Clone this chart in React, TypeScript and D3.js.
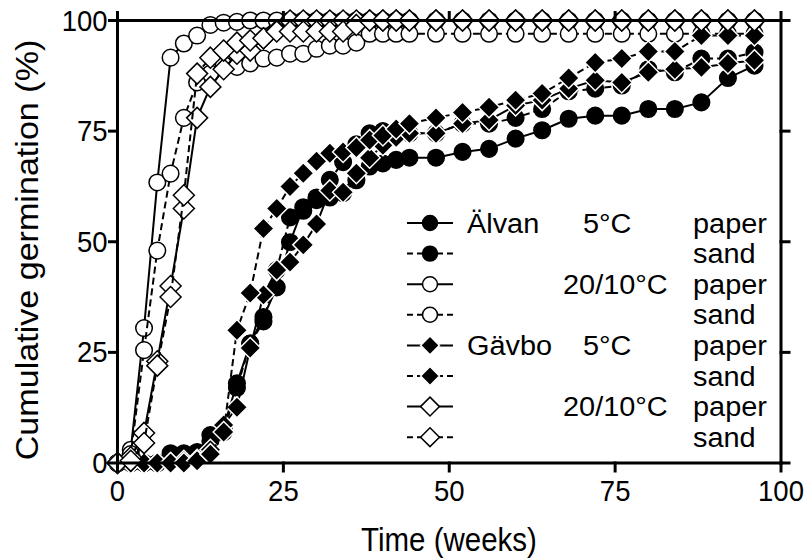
import React from 'react';
import * as d3 from 'd3';

const weeks = [0,2,4,6,8,10,12,14,16,18,20,22,24,26,28,30,32,34,36,38,40,42,44,48,52,56,60,64,68,72,76,80,84,88,92,96];

const alvan5Paper = [0,0,0,0,2.2,2.2,2.5,6.3,8,18,27,33,39.7,49.9,57.8,59.4,60,61,63.9,67,67.7,68.5,69, 69,70.3,71,73.3,75.2,77.8,78.5,78.5,80,80,81.5,87,89.8];
const alvan5Sand = [0,0,0,0,1.5,1.5,2,5,7,17,27,32,43.6,55.5,57,60,64,68,72,74.5,75,74,74.5, 74.5,76.7,76.7,78,80,84,84.6,85.3,89,88.3,91.4,91.4,92.8];
const alvan20Paper = [0,3,30.5,63.4,91.6,94.8,96.6,99,99.5,99.7,100,100,100,100,100,100,100,100,100,100,100,100,100, 100,100,100,100,100,100,100,100,100,100,100,100,100];
const alvan20Sand = [0,2,25.5,48,65.4,78,86,88,90,89.5,90.3,91.4,91.6,92.5,92.5,93.6,94.3,94.3,95,97,97,97,97, 97,97,97,97,97,97,97,97,97,97,97,97,97];
const gavbo5Paper = [0,0,0,0,0,0.5,0.7,3,8.6,12.6,26,38,43.6,45.4,49.3,54,61.6,61.2,65.5,69,71.8,73.6,74.5, 74.5,76.7,77.5,80.8,82,84.6,86.5,86,88.3,89,89.4,90.3,91];
const gavbo5Sand = [0,0,0,0,0,0,0.5,2,7,30,38.4,53,57.5,62.5,65.5,68.2,70,70.3,71.3,73,74,75.5,76.7, 78,79.2,80.4,82,83.5,87,90.5,91.4,93,93,96.6,96.6,96.6];
const gavbo20Paper = [0,1.3,6.8,23,40,57.5,78,85,89,92.5,93.2,96,97.7,100,100,100,100,100,100,100,100,100,100, 100,100,100,100,100,100,100,100,100,100,100,100,100];
const gavbo20Sand = [0,0.5,4.5,22,37.5,60.5,88,91.6,93.2,95,95.5,96,97.5,97.5,97.5,97.5,97.5,97.5,99,100,100,100,100, 100,100,100,100,100,100,100,100,100,100,100,100,100];

const xTicks = [0,25,50,75,100];
const yTicks = [0,25,50,75,100];

const legendSite = ['Älvan','','','','Gävbo','','',''];
const legendTemp = ['5°C','','20/10°C','','5°C','','20/10°C',''];
const legendMedium = ['paper','sand','paper','sand','paper','sand','paper','sand'];

type Marker = 'circle' | 'diamond';
const seriesValues = [alvan5Paper, alvan5Sand, alvan20Paper, alvan20Sand, gavbo5Paper, gavbo5Sand, gavbo20Paper, gavbo20Sand];
const seriesMarker: Marker[] = ['circle','circle','circle','circle','diamond','diamond','diamond','diamond'];
const seriesFilled = [true,true,false,false,true,true,false,false];
const seriesDashed = [false,true,false,true,false,true,false,true];

const FONT = 'Liberation Sans, Arial, Helvetica, sans-serif';

const x = d3.scaleLinear().domain([0,100]).range([117.5,781]);
const y = d3.scaleLinear().domain([0,100]).range([463,20.5]);

function markerEl(m: Marker, filled: boolean, cx: number, cy: number, key: string | number, size = 1) {
  if (m === 'circle') {
    return <circle key={key} cx={cx} cy={cy} r={8.3 * size}
      fill={filled ? '#000' : '#fff'} stroke="#000" strokeWidth={1.5} />;
  }
  const r = 10.5 * size;
  const d = `M${cx},${cy - r}L${cx + r},${cy}L${cx},${cy + r}L${cx - r},${cy}Z`;
  return <path key={key} d={d} fill={filled ? '#000' : '#fff'} stroke={filled ? '#fff' : '#000'} strokeWidth={1.5} />;
}

function T({ x: tx, y: ty, sx = 1, sy = 1.1, size, anchor = 'start', children }:
  { x: number; y: number; sx?: number; sy?: number; size: number; anchor?: string; children: React.ReactNode }) {
  return (
    <text transform={`translate(${tx},${ty}) scale(${sx},${sy})`} fontSize={size} textAnchor={anchor as any}>{children}</text>
  );
}

export default function App() {
  const line = d3.line<number>().x((_, i) => x(weeks[i])).y(d => y(d));
  const tick = 8;
  const x0 = x(0), x1 = x(100), y0 = y(0), y1 = y(100);
  const legendY = (i: number) => 223 + i * 30.6;

  return (
    <svg width={806} height={558} style={{ position: 'absolute', left: 0, top: 0, background: '#fff' }}
      fontFamily={FONT}>
      <rect x={0} y={0} width={806} height={558} fill="#fff" />
      {seriesValues.map((vals, si) => (
        <g key={si}>
          <path d={line(vals) || ''} fill="none" stroke="#000" strokeWidth={2}
            strokeDasharray={seriesDashed[si] ? '7,4' : undefined} />
          {vals.map((v, i) => markerEl(seriesMarker[si], seriesFilled[si], x(weeks[i]), y(v), i))}
        </g>
      ))}
      <g stroke="#000" strokeWidth={3} strokeLinecap="square">
        <line x1={x0} y1={y0} x2={x0} y2={y1} />
        <line x1={x1} y1={y0} x2={x1} y2={y1} />
        <line x1={x0} y1={y0} x2={x1} y2={y0} />
        <line x1={x0} y1={y1} x2={x1} y2={y1} />
        {yTicks.map(t => <line key={'yl' + t} x1={x0 - tick} x2={x0} y1={y(t)} y2={y(t)} />)}
        {yTicks.map(t => <line key={'yr' + t} x1={x1} x2={x1 + tick} y1={y(t)} y2={y(t)} />)}
        {xTicks.map(t => <line key={'xb' + t} x1={x(t)} x2={x(t)} y1={y0} y2={y0 + tick} />)}
        {xTicks.map(t => <line key={'xt' + t} x1={x(t)} x2={x(t)} y1={y1 - tick} y2={y1} />)}
      </g>
      {yTicks.map(t => (
        <T key={'ytl' + t} x={x0 - 10} y={y(t) + 10} size={27.5} sy={1.08} anchor="end">{t}</T>
      ))}
      {xTicks.map(t => (
        <T key={'xtl' + t} x={x(t)} y={y0 + 38} size={27.5} sy={1.08} anchor="middle">{t}</T>
      ))}
      <T x={449} y={551} size={29.5} sy={1.15} anchor="middle">Time (weeks)</T>
      <text transform={`translate(38,250) rotate(-90) scale(1.1,1)`} textAnchor="middle" fontSize={31}>Cumulative germination (%)</text>
      {legendMedium.map((med, i) => {
        const cy = legendY(i);
        return (
          <g key={'lg' + i}>
            <line x1={407} x2={453} y1={cy} y2={cy} stroke="#000" strokeWidth={2}
              strokeDasharray={seriesDashed[i] ? '6,4' : undefined} />
            {markerEl(seriesMarker[i], seriesFilled[i], 430, cy, 'm', 0.9)}
            {legendSite[i] && <T x={467} y={cy + 9.5} size={27} sx={1.07} sy={1}>{legendSite[i]}</T>}
            {legendTemp[i] && <T x={legendTemp[i] === '5°C' ? 583 : 563} y={cy + 9.5} size={27} sx={1.07} sy={1}>{legendTemp[i]}</T>}
            <T x={693} y={cy + 9.5} size={27} sx={1.07} sy={1}>{med}</T>
          </g>
        );
      })}
    </svg>
  );
}
